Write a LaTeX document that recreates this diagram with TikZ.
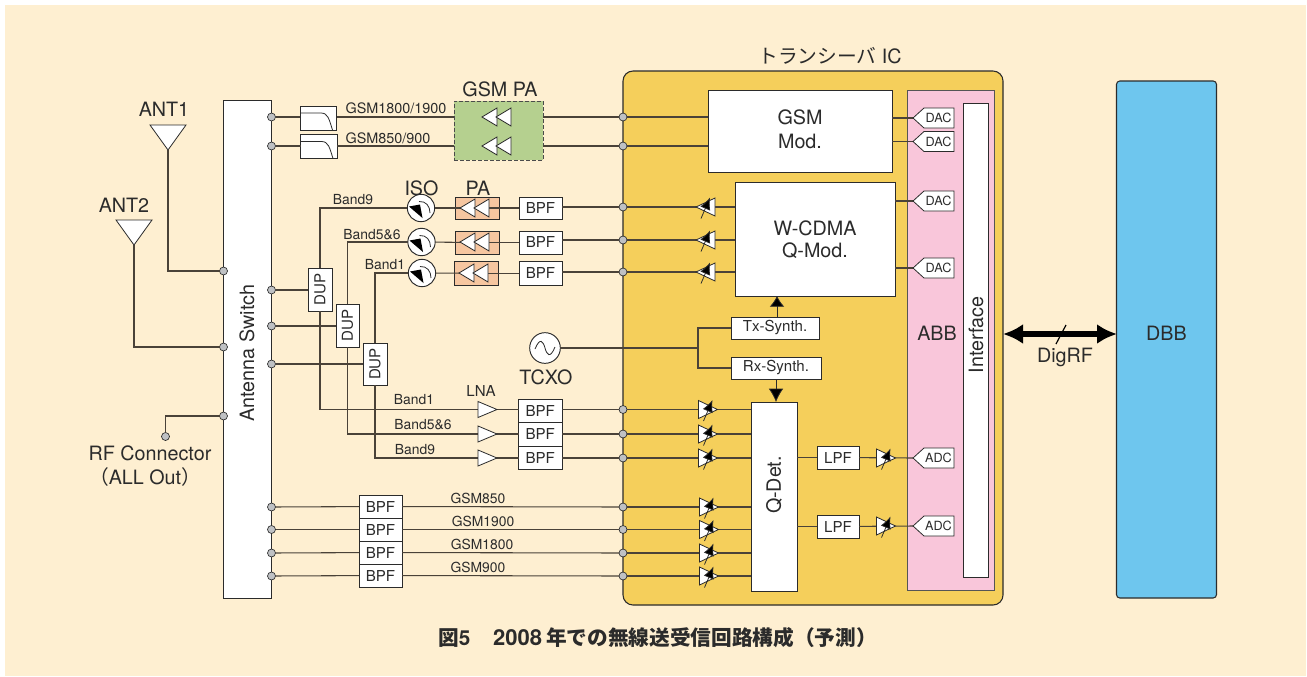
\documentclass[tikz,border=0pt]{standalone}
\usepackage{fontspec}
\setmainfont{TeX Gyre Heros}
\newfontfamily\cjk{Noto Sans CJK JP}
\usetikzlibrary{arrows.meta,positioning}
\definecolor{bgc}{HTML}{FEEFD1}
\definecolor{icc}{HTML}{F5CF5B}
\definecolor{grn}{HTML}{B5D08F}
\definecolor{org}{HTML}{F6C6A0}
\definecolor{pnk}{HTML}{F9C6DA}
\definecolor{blu}{HTML}{6EC6EE}
\definecolor{ink}{HTML}{2B2B2B}
\definecolor{wire}{HTML}{4A4238}
\definecolor{dotc}{HTML}{BFC1C4}
\newcommand{\fbig}{\fontsize{14.8}{17}\selectfont}
\newcommand{\fmid}{\fontsize{11.3}{13}\selectfont}
\newcommand{\fsml}{\fontsize{10.4}{12}\selectfont}
\newcommand{\ftin}{\fontsize{9.5}{11}\selectfont}
\tikzset{
  x=0.75pt,y=-0.75pt,
  pxbox/.style={draw=ink,fill=white,line width=0.75pt,inner sep=0pt,outer sep=0pt,text=ink,align=center,font=\fmid},
  wires/.style={draw=wire,line width=0.8pt},
  tri/.style={draw=ink,fill=white,line width=0.6pt,line join=miter},
  lbl/.style={text=ink,inner sep=0pt,font=\fsml},
  biglbl/.style={text=ink,inner sep=0pt,font=\fbig,align=center},
  portdot/.style={circle,draw=ink,fill=dotc,line width=0.5pt,minimum size=6pt,inner sep=0pt,outer sep=0pt},
  convbox/.style={draw=ink,fill=white,line width=0.6pt,line join=miter},
}
% [style]{name}{x0}{y0}{x1}{y1}{text}
\newcommand{\rbox}[7][]{\node[pxbox,minimum width={(#5-#3)*0.75pt},minimum height={(#6-#4)*0.75pt},#1] (#2) at ({(#3+#5)/2},{(#4+#6)/2}) {#7};}
\newcommand{\triL}[4]{\draw[tri] (#1,#2) -- ({#1+#3},{#2-#4}) -- ({#1+#3},{#2+#4}) -- cycle;}
\newcommand{\triR}[4]{\draw[tri] (#1,#2) -- ({#1-#3},{#2-#4}) -- ({#1-#3},{#2+#4}) -- cycle;}
\newcommand{\dbl}[2]{\triL{#1}{#2}{15}{9}\triL{#1+14}{#2}{15}{9}}
\newcommand{\vgaarrow}[2]{\draw[ink,line width=0.6pt,-{Latex[length=9pt,width=8pt,fill=black]}] ({#1-4.5},{#2+11.5}) -- ({#1+4.5},{#2-9.5});}
\newcommand{\vgaL}[2]{\triL{#1-9.5}{#2}{19}{9}\vgaarrow{#1}{#2}}
\newcommand{\vgaR}[2]{\triR{#1+9.5}{#2}{19}{9}\vgaarrow{#1}{#2}}
\newcommand{\isolator}[3]{%
  \node[circle,draw=ink,fill=white,line width=0.7pt,minimum size=20.5pt,inner sep=0pt,outer sep=0pt] (#1) at (#2,#3) {};
  \fill[black] ({#2-12},{#3-1.5}) -- ({#2-1},{#3-3.5}) -- ({#2+1.5},{#3+10}) -- cycle;
  \draw[ink,line width=0.6pt] ({#2-2},{#3-6.5}) .. controls ({#2+5},{#3-7}) and ({#2+9},{#3-2}) .. ({#2+9},{#3+5});}
\newcommand{\lpcurve}[3]{\draw[ink,line width=0.6pt] (#1,#2) -- ({#1+21},#2) .. controls ({#1+28},#2) and ({#1+29},{#2+6}) .. ({#1+#3},{#2+17});}
\newcommand{\dac}[4]{% name, y, text
  \draw[convbox] (913,#2) -- (924,{#2-10}) -- (954,{#2-10}) -- (954,{#2+10}) -- (924,{#2+10}) -- cycle;
  \coordinate (#1) at (913,#2);
  \node[text=ink,font=\ftin,inner sep=0pt] at (938.5,{#2+#4}) {#3};}
\begin{document}
\begin{tikzpicture}
\useasboundingbox (0,0) rectangle (1307,676);
\fill[white] (0,0) rectangle (1307,676);
\fill[bgc] (5,5) rectangle (1305.7,676);

% containers
\node[draw=ink,fill=icc,line width=0.8pt,rounded corners=7.5pt,minimum width={380*0.75pt},minimum height={534*0.75pt},inner sep=0pt,outer sep=0pt] (ic) at (813,338) {};
\node[draw=ink!80,fill=pnk,line width=0.55pt,minimum width={87*0.75pt},minimum height={500*0.75pt},inner sep=0pt,outer sep=0pt,text=ink,font=\fbig] (abb) at (950.5,340) {};
\node[biglbl] at (937,333) {ABB};
\rbox{sw}{223.5}{100}{271.5}{598.5}{}
\node[biglbl,rotate=90] at (247,353) {Antenna Switch};
\node[draw=ink,fill=blu,line width=0.8pt,rounded corners=2.5pt,minimum width={100*0.75pt},minimum height={517*0.75pt},inner sep=0pt,outer sep=0pt,text=ink,font=\fbig] (dbb) at (1166.5,339.5) {};
\node[biglbl] at (1166.5,333) {DBB};
\rbox{ifc}{963}{103}{988}{577}{}
\node[biglbl,rotate=90] at (976,335) {Interface};
\node[draw=ink!85,dashed,dash pattern=on 3pt off 1.5pt,fill=grn,line width=0.7pt,minimum width={89*0.75pt},minimum height={59*0.75pt},inner sep=0pt,outer sep=0pt] (gsmpa) at (498.5,130.5) {};

% boxes
\rbox{gsmmod}{708}{90}{892}{172}{}
\node[biglbl] at (800,117) {GSM};
\node[biglbl] at (800,141) {Mod.};
\rbox{qmod}{735}{182}{895}{296}{}
\node[biglbl] at (815,228) {W-CDMA};
\node[biglbl] at (815,251) {Q-Mod.};
\rbox{flt1}{300}{106.5}{336.5}{130}{}
\rbox{flt2}{300.5}{134.5}{337}{158.5}{}
\rbox[fill=org]{pa1}{455}{197}{499}{219}{}
\rbox[fill=org]{pa2}{455}{231}{499}{254}{}
\rbox[fill=org]{pa3}{454}{261.5}{498}{285}{}
\rbox{tb1}{519}{197}{562}{219}{BPF}
\rbox{tb2}{519}{231}{562}{254}{BPF}
\rbox{tb3}{519}{261.5}{562}{285}{BPF}
\rbox{dup1}{308}{268}{332}{311}{\rotatebox{90}{DUP}}
\rbox{dup2}{336}{304}{359}{347}{\rotatebox{90}{DUP}}
\rbox{dup3}{363}{343}{387}{385}{\rotatebox{90}{DUP}}
\rbox{rb1}{518.5}{399}{562}{422}{BPF}
\rbox{rb2}{518.5}{422}{562}{446}{BPF}
\rbox{rb3}{518.5}{446}{562}{469}{BPF}
\rbox{gb1}{359}{495}{402}{518}{BPF}
\rbox{gb2}{359}{518}{402}{541}{BPF}
\rbox{gb3}{359}{541}{402}{564}{BPF}
\rbox{gb4}{359}{564}{402}{587}{BPF}
\rbox{txs}{731}{317}{819}{339}{Tx-Synth.}
\rbox{rxs}{731}{357}{821}{379}{Rx-Synth.}
\rbox{qdet}{751}{402}{797}{591}{}
\node[biglbl,rotate=90] at (774,485) {Q-Det.};
\rbox{lpf1}{817}{446}{859}{469}{LPF}
\rbox{lpf2}{817}{515}{859}{538}{LPF}

% ports
\node[portdot] (a1) at (223.5,271) {};
\node[portdot] (a2) at (223.5,347) {};
\node[portdot] (a3) at (223.5,416) {};
\node[portdot] (rf) at (165.5,436.5) {};
\foreach \n/\yy in {s1/117,s2/146,s3/290,s4/326,s5/364,s6/507,s7/529.5,s8/553,s9/576}{\node[portdot] (\n) at (271.5,\yy) {};}
\foreach \n/\yy in {p1/117,p2/146,p3/207,p4/240,p5/272,p6/409.5,p7/434,p8/458,p9/507,p10/529.5,p11/553,p12/576}{\node[portdot] (\n) at (623,\yy) {};}

% named points for triangles and amplifiers
\coordinate (ant1) at (168,150);
\coordinate (ant2) at (134,245);
\coordinate (l1) at (497,409.5);
\coordinate (l2) at (497,434);
\coordinate (l3) at (497,458);
\coordinate (d1) at (913,118);
\coordinate (d2) at (913,141.5);
\coordinate (d3) at (913,201);
\coordinate (d4) at (913,268);
\coordinate (d5) at (913,458);
\coordinate (d6) at (913,526);

\node[circle,draw=ink,fill=white,line width=0.7pt,minimum size=23pt,inner sep=0pt,outer sep=0pt] (tcxo) at (545,348) {};
\isolator{iso1}{421}{208}
\isolator{iso2}{421.5}{242}
\isolator{iso3}{422}{273}

% connectors
\begin{scope}[wires]
\draw (ant1) |- (a1);
\draw (ant2) |- (a2);
\draw (rf) |- (a3);
\draw (s1) -- (s1 -| flt1.west);
\draw (s2) -- (s2 -| flt2.west);
\draw (s1 -| flt1.east) -- (s1 -| gsmpa.west);
\draw (s2 -| flt2.east) -- (s2 -| gsmpa.west);
\draw (p1 -| gsmpa.east) -- (p1);
\draw (p2 -| gsmpa.east) -- (p2);
\draw (p1) -- (p1 -| gsmmod.west);
\draw (p2) -- (p2 -| gsmmod.west);
\draw (d1 -| gsmmod.east) -- (d1);
\draw (d2 -| gsmmod.east) -- (d2);
\draw (d3 -| qmod.east) -- (d3);
\draw (d4 -| qmod.east) -- (d4);
\draw (s3) -- (s3 -| dup1.west);
\draw (s4) -- (s4 -| dup2.west);
\draw (s5) -- (s5 -| dup3.west);
\draw (dup1.north) |- (iso1);
\draw (dup2.north) |- (iso2);
\draw (dup3.north) |- (iso3);
\draw (iso1) -- (pa1.center);
\draw (iso2) -- (pa2.center);
\draw (iso3) -- (pa3.center);
\draw (pa1.center) -- (tb1);
\draw (pa2.center) -- (tb2);
\draw (pa3.center) -- (tb3);
\draw (tb1.east |- p3) -- (p3);
\draw (tb2.east |- p4) -- (p4);
\draw (tb3.east |- p5) -- (p5);
\draw (p3) -- (p3 -| qmod.west);
\draw (p4) -- (p4 -| qmod.west);
\draw (p5) -- (p5 -| qmod.west);
\draw (dup1.south) |- (l1);
\draw (dup2.south) |- (l2);
\draw (dup3.south) |- (l3);
\draw (l1) -- (l1 -| rb1.west);
\draw (l2) -- (l2 -| rb2.west);
\draw (l3) -- (l3 -| rb3.west);
\draw (rb1.east |- p6) -- (p6);
\draw (rb2.east |- p7) -- (p7);
\draw (rb3.east |- p8) -- (p8);
\draw (p6) -- (p6 -| qdet.west);
\draw (p7) -- (p7 -| qdet.west);
\draw (p8) -- (p8 -| qdet.west);
\draw (s6) -- (gb1);
\draw (s7) -- (gb2);
\draw (s8) -- (gb3);
\draw (s9) -- (gb4);
\draw (gb1) -- (p9);
\draw (gb2) -- (p10);
\draw (gb3) -- (p11);
\draw (gb4) -- (p12);
\draw (p9) -- (p9 -| qdet.west);
\draw (p10) -- (p10 -| qdet.west);
\draw (p11) -- (p11 -| qdet.west);
\draw (p12) -- (p12 -| qdet.west);
\draw (lpf1 -| qdet.east) -- (lpf1);
\draw (lpf2 -| qdet.east) -- (lpf2);
\draw (lpf1) -- (d5);
\draw (lpf2) -- (d6);
\draw (tcxo) -- (698,348) coordinate (br);
\draw (txs) -| (br);
\draw (rxs) -| (br);
\end{scope}
\draw[ink,line width=0.6pt,-{Latex[length=8pt,width=11pt,fill=black]}] (txs.north -| 777,0) -- (qmod.south -| 777,0);
\draw[ink,line width=0.6pt,-{Latex[length=10pt,width=11pt,fill=black]}] (rxs.south -| 776,0) -- (qdet.north -| 776,0);
\coordinate (dl) at (1003,334);
\coordinate (dr) at (1117,334);
\draw[black,line width=3.8pt,{Latex[length=15pt,width=15pt]}-{Latex[length=15pt,width=15pt]}] (dl) -- (dr);
\draw[black,line width=0.9pt] (1056,344) -- (1066,325);

% filter curves
\lpcurve{300}{113}{32.5}
\lpcurve{300.5}{141.5}{32.5}
% TCXO sine
\draw[ink,line width=0.6pt] (535,349) .. controls (540,337) and (543,341) .. (545,348) .. controls (547,355) and (550,359) .. (555,347);

% amplifier symbols
\dbl{482}{117}
\dbl{482}{146}
\dbl{460}{208}
\dbl{460}{242}
\dbl{459}{273}
\triR{497}{409.5}{19}{8}
\triR{497}{434}{19}{8}
\triR{497}{458}{19}{8}
\draw[tri] (ant1) -- (150,125) -- (186,125) -- cycle;
\draw[tri] (ant2) -- (116,220) -- (152,220) -- cycle;
\vgaL{705.5}{207}
\vgaL{705.5}{240}
\vgaL{705.5}{272}
\vgaR{708}{409.5}
\vgaR{708}{434}
\vgaR{708}{458}
\vgaR{709}{507}
\vgaR{709}{529.5}
\vgaR{709}{553}
\vgaR{709}{576}
\vgaR{886}{458}
\vgaR{886}{526}

% converters
\dac{d1n}{118}{DAC}{0}
\dac{d2n}{141.5}{DAC}{0}
\dac{d3n}{201}{DAC}{0}
\dac{d4n}{268}{DAC}{0}
\dac{d5n}{458}{ADC}{0}
\dac{d6n}{526}{ADC}{0}

% labels
\node[biglbl] at (164,109) {ANT1};
\node[biglbl] at (124,205) {ANT2};
\node[biglbl] at (150,453) {RF Connector};
\node[biglbl] at (145,477) {{\cjk （}ALL Out{\cjk ）}};
\node[biglbl] at (500,89) {GSM PA};
\node[biglbl] at (421.5,188) {ISO};
\node[biglbl] at (478,188) {PA};
\node[biglbl] at (546,377) {TCXO};
\node[biglbl] at (1065,357) {DigRF};
\node[biglbl] at (830,56) {{\cjk トランシーバ} IC};
\node[lbl,font=\fontsize{10.8}{12}\selectfont] at (396,108) {GSM1800/1900};
\node[lbl,font=\fontsize{10.8}{12}\selectfont] at (388,138) {GSM850/900};
\node[lbl] at (353,200) {Band9};
\node[lbl] at (372,235) {Band5\&6};
\node[lbl] at (385,265) {Band1};
\node[lbl,font=\fmid] at (481,391) {LNA};
\node[lbl] at (414,400) {Band1};
\node[lbl] at (423,425) {Band5\&6};
\node[lbl] at (415,450) {Band9};
\node[lbl] at (478,498) {GSM850};
\node[lbl] at (483,521) {GSM1900};
\node[lbl] at (482,544) {GSM1800};
\node[lbl] at (478,567) {GSM900};
\node[text=ink,inner sep=0pt,font=\fontsize{15.5}{17}\selectfont\bfseries] at (657.5,638) {{\cjk 図}5\hspace{17pt}{\fontsize{16.5}{17}\selectfont 2008}\hspace{3pt}{\cjk 年での無線送受信回路構成（予測）}};
\end{tikzpicture}
\end{document}
